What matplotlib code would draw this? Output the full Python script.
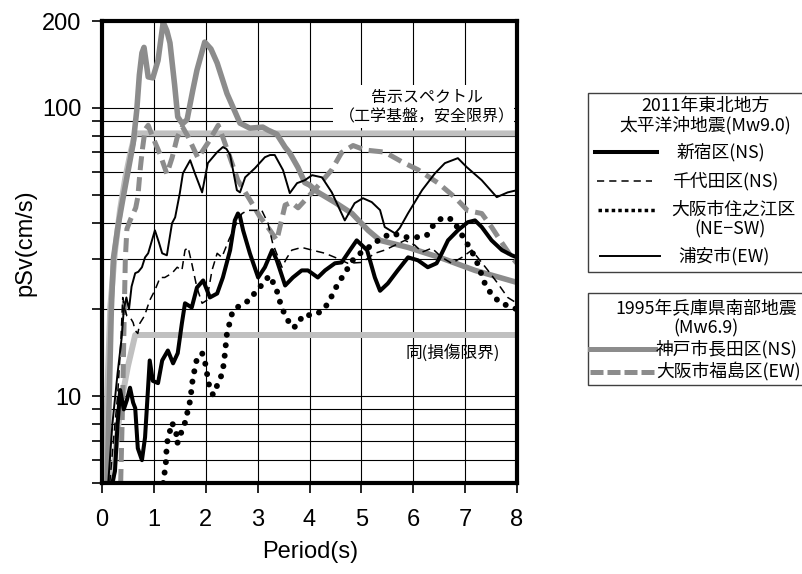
import matplotlib
matplotlib.use("Agg")
import matplotlib.pyplot as plt
from matplotlib.lines import Line2D
from matplotlib.patches import Rectangle
from matplotlib.ticker import FixedLocator, FixedFormatter, NullLocator

plt.rcParams['font.family'] = ['Liberation Sans', 'DejaVu Sans']
JP = ['Noto Sans CJK JP', 'DejaVu Sans']

# ---------------- data ----------------
# 告示スペクトル (工学基盤, 安全限界) and 同(損傷限界)
kokuji_safe_T = [0.05, 0.10, 0.16, 0.25, 0.35, 0.45, 0.55, 0.64, 8.0]
kokuji_safe_v = [3.7, 9.9, 20.4, 31.8, 44.6, 57.3, 70.0, 81.5, 81.5]
kokuji_dmg_T = [0.16, 0.20, 0.30, 0.40, 0.50, 0.64, 8.0]
kokuji_dmg_v = [4.1, 5.1, 7.6, 10.2, 12.7, 16.3, 16.3]

# 1995 神戸市長田区(NS)
kobe_T = [0.10, 0.14, 0.18, 0.22, 0.30, 0.40, 0.50, 0.60, 0.67, 0.72, 0.77, 0.81,
          0.86, 0.89, 0.98, 1.08, 1.18, 1.25, 1.31, 1.40, 1.46, 1.55, 1.64, 1.75,
          1.83, 1.98, 2.10, 2.22, 2.41, 2.66, 2.85, 3.10, 3.20, 3.37, 3.53, 3.62,
          3.78, 3.91, 4.00, 4.16, 4.49, 4.82, 5.13, 5.36, 5.90, 6.55, 7.19, 8.00]
kobe_v = [5.0, 10.0, 20.0, 30.0, 38.0, 48.0, 60.0, 75.0, 98.0, 130.0, 155.0, 162.0,
          140.0, 128.0, 127.0, 146.0, 198.0, 185.0, 168.0, 120.0, 93.0, 88.0, 91.0, 115.0,
          135.0, 169.0, 160.0, 143.0, 112.0, 88.5, 85.0, 85.7, 83.7, 81.0, 73.0, 69.7,
          62.0, 55.0, 54.0, 51.0, 47.0, 43.0, 37.6, 34.7, 32.8, 30.1, 27.3, 24.8]

# 1995 大阪市福島区(EW)
fuku_T = [0.36, 0.40, 0.43, 0.45, 0.48, 0.55, 0.65, 0.69, 0.74, 0.78, 0.83,
          0.89, 0.98, 1.12, 1.25, 1.35, 1.45, 1.55, 1.65, 1.85, 2.05, 2.24, 2.33,
          2.47, 2.62, 2.85, 3.04, 3.24, 3.37, 3.45, 3.53, 3.65, 3.78, 4.10, 4.43,
          4.62, 4.84, 5.07, 5.45, 5.78, 6.09, 6.47, 6.80, 7.05, 7.32, 7.51, 7.71,
          7.90, 8.00]
fuku_v = [5.0, 10.0, 20.0, 30.0, 38.0, 41.0, 45.0, 49.0, 62.0, 72.0, 84.0,
          87.0, 79.0, 69.0, 59.0, 67.0, 79.0, 86.0, 80.0, 67.0, 76.0, 87.0, 79.0,
          67.0, 56.0, 48.0, 42.0, 37.6, 34.7, 40.0, 46.0, 47.0, 45.0, 52.0, 61.0,
          70.0, 74.0, 71.4, 70.2, 65.0, 61.0, 55.0, 49.0, 44.0, 43.0, 38.6, 34.0,
          30.3, 28.9]

# 2011 新宿区(NS)
shinjuku_T = [0.20, 0.25, 0.30, 0.35, 0.42, 0.48, 0.54, 0.60, 0.64, 0.69, 0.77, 0.83,
              0.92, 0.98, 1.08, 1.16, 1.27, 1.37, 1.46, 1.54, 1.60, 1.73, 1.83, 1.95,
              2.08, 2.22, 2.33, 2.47, 2.56, 2.62, 2.66, 2.72, 2.85, 3.01, 3.14, 3.28,
              3.37, 3.53, 3.68, 3.85, 3.97, 4.16, 4.30, 4.49, 4.62, 4.78, 4.91, 5.11,
              5.26, 5.36, 5.51, 5.70, 5.90, 6.09, 6.28, 6.45, 6.55, 6.67, 6.86, 7.05,
              7.19, 7.32, 7.51, 7.71, 7.90, 8.00]
shinjuku_v = [5.0, 5.5, 8.0, 10.5, 9.0, 9.7, 10.7, 9.5, 9.1, 6.6, 6.0, 7.2,
              13.3, 11.3, 11.1, 13.3, 14.4, 13.0, 14.1, 17.9, 21.0, 20.3, 23.8, 25.2,
              22.0, 22.7, 25.8, 32.1, 40.7, 43.0, 42.0, 37.6, 31.3, 25.8, 28.0, 32.1,
              29.6, 24.2, 25.8, 27.3, 27.3, 25.8, 27.3, 28.9, 29.1, 32.1, 34.7, 32.1,
              25.8, 23.2, 24.6, 27.3, 30.3, 29.6, 28.0, 28.9, 31.3, 34.7, 37.6, 40.1,
              40.7, 38.6, 34.7, 32.1, 30.8, 30.3]

# 2011 千代田区(NS)
chiyoda_T = [0.15, 0.22, 0.30, 0.36, 0.40, 0.44, 0.48, 0.54, 0.60, 0.64, 0.69, 0.73,
             0.82, 0.92, 1.02, 1.12, 1.21, 1.35, 1.45, 1.54, 1.60, 1.66, 1.73, 1.83,
             1.93, 2.02, 2.12, 2.22, 2.31, 2.45, 2.60, 2.70, 2.81, 3.08, 3.20, 3.29,
             3.47, 3.56, 3.66, 3.85, 4.05, 4.30, 4.49, 4.74, 5.01, 5.26, 5.45, 5.65,
             5.84, 6.03, 6.17, 6.36, 6.55, 6.74, 6.94, 7.13, 7.24, 7.44, 7.63, 7.82, 8.00]
chiyoda_v = [5.0, 7.0, 10.0, 15.0, 22.0, 20.0, 19.0, 18.8, 18.0, 16.9, 16.5, 17.9,
             19.0, 21.5, 23.3, 25.8, 25.8, 26.7, 28.0, 27.3, 32.1, 32.8, 28.9, 23.8,
             21.0, 21.5, 27.3, 31.3, 30.3, 35.0, 40.0, 43.0, 44.1, 44.1, 39.8, 33.9,
             28.0, 30.1, 32.1, 32.8, 32.1, 31.3, 30.3, 28.9, 29.1, 31.3, 32.1, 33.4,
             34.7, 33.4, 31.6, 32.6, 30.3, 28.9, 30.3, 32.1, 30.3, 27.3, 24.6, 22.0, 21.0]

# 2011 大阪市住之江区(NE-SW)
suminoe_T = [1.18, 1.23, 1.25, 1.35, 1.43, 1.45, 1.52, 1.60, 1.70, 1.75, 1.83, 1.93,
             1.99, 2.06, 2.14, 2.22, 2.31, 2.35, 2.41, 2.47, 2.52, 2.72, 2.85, 2.99,
             3.12, 3.22, 3.31, 3.39, 3.45, 3.53, 3.66, 3.76, 3.87, 4.07, 4.26, 4.39,
             4.49, 4.62, 4.74, 4.87, 5.20, 5.41, 5.61, 5.84, 6.07, 6.26, 6.40, 6.57,
             6.76, 7.00, 7.13, 7.23, 7.38, 7.51, 7.69, 7.86, 8.00]
suminoe_v = [5.0, 5.84, 6.85, 8.1, 7.48, 6.85, 7.42, 8.1, 9.66, 11.5, 13.5, 14.1,
             13.0, 11.0, 10.1, 10.9, 11.9, 13.0, 16.6, 18.2, 19.8, 21.0, 21.5, 23.5,
             24.6, 26.2, 24.6, 22.7, 20.6, 19.1, 17.3, 17.5, 19.1, 19.1, 19.8, 21.5,
             23.5, 25.7, 27.8, 30.3, 33.4, 35.6, 36.7, 35.6, 35.6, 36.1, 39.5, 41.7,
             41.0, 34.7, 31.8, 29.1, 24.6, 22.5, 21.0, 20.5, 20.0]

# 2011 浦安市(EW)
urayasu_T = [0.12, 0.20, 0.30, 0.38, 0.42, 0.47, 0.52, 0.57, 0.64, 0.70, 0.77, 0.83,
             0.89, 1.02, 1.10, 1.16, 1.25, 1.35, 1.41, 1.50, 1.56, 1.70, 1.79, 1.93,
             2.04, 2.22, 2.33, 2.40, 2.47, 2.60, 2.66, 2.76, 2.95, 3.14, 3.24, 3.33,
             3.49, 3.62, 3.76, 3.91, 4.05, 4.24, 4.43, 4.68, 4.87, 5.03, 5.20, 5.36,
             5.45, 5.65, 5.74, 5.90, 6.17, 6.42, 6.61, 6.86, 7.03, 7.32, 7.61, 7.82, 8.00]
urayasu_v = [5.0, 8.0, 12.0, 16.0, 20.0, 22.0, 20.0, 24.0, 26.7, 27.0, 28.0, 30.3,
             31.3, 37.6, 34.0, 31.3, 30.8, 39.8, 41.7, 50.6, 59.3, 65.8, 59.3, 50.9,
             64.3, 70.2, 73.1, 72.0, 68.6, 51.8, 50.9, 57.4, 61.8, 67.4, 68.6, 68.6,
             60.8, 50.6, 54.8, 56.1, 58.4, 57.4, 50.9, 40.7, 46.7, 48.6, 47.1, 44.2,
             38.6, 36.7, 38.3, 43.1, 51.8, 59.3, 64.3, 66.9, 62.3, 56.1, 49.0, 50.9, 51.8]

x_ticks = [0, 1, 2, 3, 4, 5, 6, 7, 8]
y_grid = [5, 6, 7, 8, 9, 10, 20, 30, 40, 50, 60, 70, 80, 90, 100, 200]
y_labels = {10: "10", 100: "100", 200: "200"}

# ---------------- figure ----------------
W, H = 803, 574
fig = plt.figure(figsize=(W / 100, H / 100), dpi=100)

def fx(px):
    return px / W

def fy(py):
    return 1 - py / H

ax = fig.add_axes([fx(102), fy(483), fx(517) - fx(102), fy(21) - fy(483)])
ax.set_yscale('log')
ax.set_xlim(0, 8)
ax.set_ylim(5, 200)
ax.yaxis.set_major_locator(FixedLocator(y_grid))
ax.yaxis.set_major_formatter(FixedFormatter([y_labels.get(v, "") for v in y_grid]))
ax.yaxis.set_minor_locator(NullLocator())
ax.set_xticks(x_ticks)
ax.set_xticklabels([str(t) for t in x_ticks])
ax.grid(True, which='major', color='black', lw=0.8)
for s in ax.spines.values():
    s.set_linewidth(3.0)
    s.set_color('black')
ax.tick_params(axis='both', direction='out', length=7, width=1.2, labelsize=17)
ax.tick_params(axis='y', pad=8)
ax.tick_params(axis='x', pad=12)

ax.set_xlabel("Period(s)", fontsize=17)
ax.xaxis.set_label_coords((310 - 102) / 415, (483 - 541) / 462)
ax.set_ylabel("pSv(cm/s)", fontsize=17)
ax.yaxis.set_label_coords((36 - 102) / 415, (483 - 243) / 462)

# white box behind the annotation
ax.add_patch(Rectangle((fx(333), fy(128)), fx(514) - fx(333), fy(85) - fy(128),
                       transform=fig.transFigure, facecolor='white', edgecolor='none',
                       zorder=1.6))

LG = '#c0c0c0'
GR = '#8c8c8c'
ax.plot(kokuji_safe_T, kokuji_safe_v, color=LG, lw=4.3, zorder=2, solid_capstyle='butt')
ax.plot(kokuji_dmg_T, kokuji_dmg_v, color=LG, lw=4.3, zorder=2, solid_capstyle='butt')
ax.plot(kobe_T, kobe_v, color=GR, lw=4.0, zorder=2.2, solid_joinstyle='round')
ax.plot(fuku_T, fuku_v, color=GR, lw=3.6, ls=(0, (2.8, 1.4)), zorder=2.2)
ax.plot(urayasu_T, urayasu_v, color='black', lw=1.4, zorder=2.5)
ax.plot(chiyoda_T, chiyoda_v, color='black', lw=1.1, ls=(0, (5.3, 3.3)), zorder=2.5)
ax.plot(shinjuku_T, shinjuku_v, color='black', lw=2.9, zorder=2.6)
ax.plot(suminoe_T, suminoe_v, color='black', lw=4.3, ls=(0, (0.01, 1.75)),
        dash_capstyle='round', zorder=2.6)

# annotations
fig.text(fx(427), fy(107.5), "告示スペクトル\n（工学基盤，安全限界）", ha='center', va='center',
         ma='center', fontsize=11.5, family=JP, linespacing=1.2, zorder=5)
fig.text(fx(453), fy(353), "同(損傷限界)", ha='center', va='center', fontsize=12,
         family=JP, zorder=5)

# ---------------- legends ----------------
EC = '#404040'
fig.add_artist(Rectangle((fx(588), fy(272)), fx(820) - fx(588), fy(93) - fy(272),
                         transform=fig.transFigure, facecolor='white', edgecolor=EC, lw=1.0))
fig.add_artist(Rectangle((fx(588), fy(385)), fx(820) - fx(588), fy(293) - fy(385),
                         transform=fig.transFigure, facecolor='white', edgecolor=EC, lw=1.0))

LFS = 12.8
fig.text(fx(705), fy(115.5), "2011年東北地方\n太平洋沖地震(Mw9.0)", ha='center', va='center',
         ma='center', fontsize=LFS, family=JP, linespacing=1.05)

def leg_line(x0, x1, y, **kw):
    fig.add_artist(Line2D([fx(x0), fx(x1)], [fy(y), fy(y)], transform=fig.transFigure, **kw))

leg_line(595, 657, 152, color='black', lw=2.9)
fig.text(fx(677), fy(152), "新宿区(NS)", ha='left', va='center', fontsize=LFS, family=JP)
leg_line(597, 652, 181, color='black', lw=1.1, ls=(0, (4.7, 3.3)))
fig.text(fx(672), fy(181), "千代田区(NS)", ha='left', va='center', fontsize=LFS, family=JP)
leg_line(598, 657, 210, color='black', lw=2.5, ls=(0, (1.0, 0.9)))
fig.text(fx(671), fy(210), "大阪市住之江区", ha='left', va='center', fontsize=LFS, family=JP)
fig.text(fx(730), fy(229), "(NE\u2212SW)", ha='center', va='center', fontsize=LFS, family=JP)
leg_line(600, 660, 256, color='black', lw=1.4)
fig.text(fx(678), fy(256), "浦安市(EW)", ha='left', va='center', fontsize=LFS, family=JP)

fig.text(fx(706), fy(319), "1995年兵庫県南部地震\n(Mw6.9)", ha='center', va='center',
         ma='center', fontsize=LFS, family=JP, linespacing=1.05)
leg_line(590, 655, 349, color=GR, lw=3.6)
fig.text(fx(656), fy(349), "神戸市長田区(NS)", ha='left', va='center', fontsize=LFS, family=JP)
leg_line(590, 655, 372, color=GR, lw=3.6, ls=(0, (2.6, 0.8)))
fig.text(fx(656), fy(372), "大阪市福島区(EW)", ha='left', va='center', fontsize=LFS, family=JP)

fig.savefig("out.png", dpi=100)
